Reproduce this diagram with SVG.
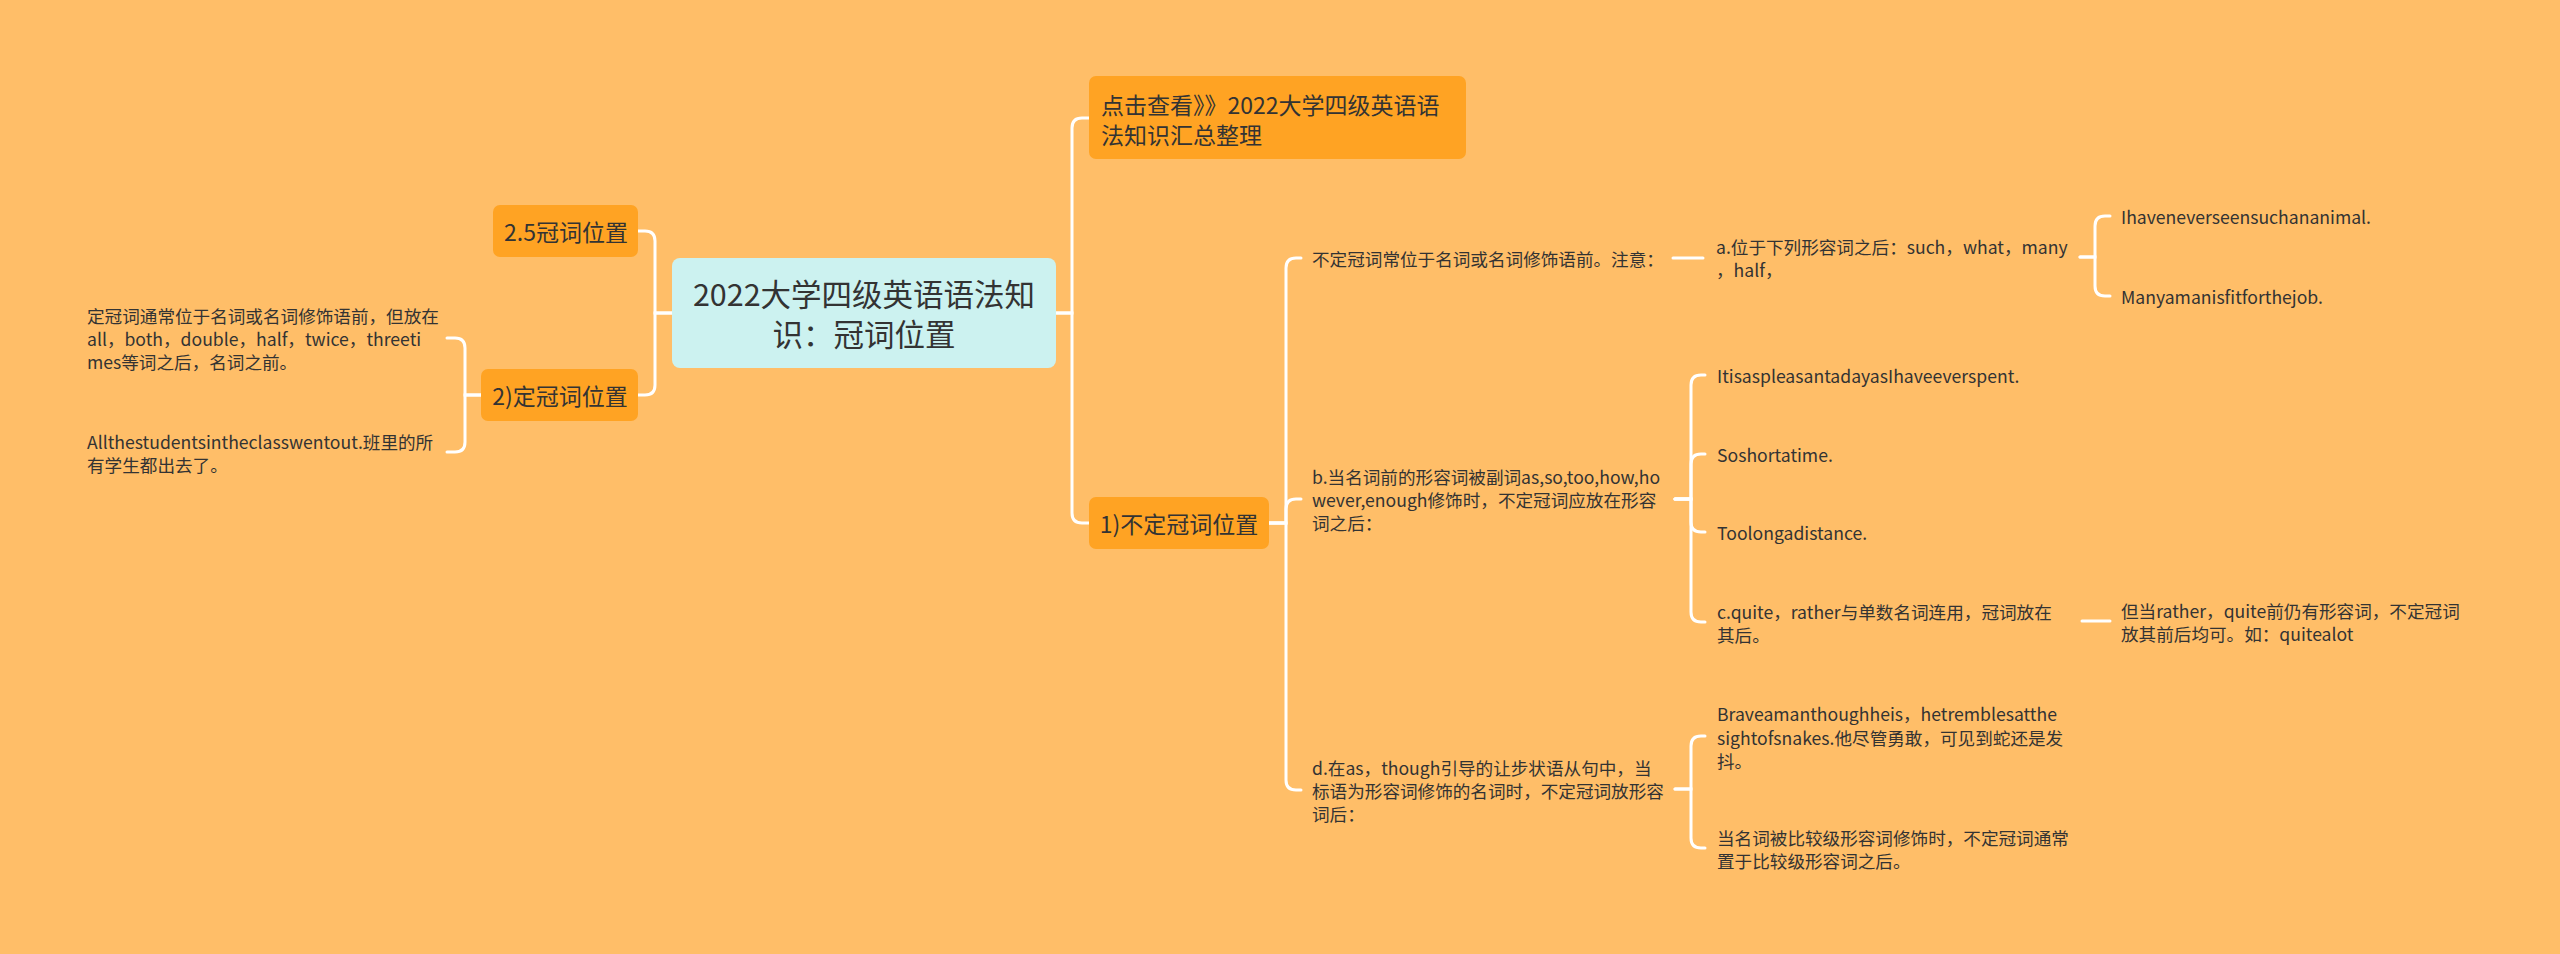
<svg xmlns="http://www.w3.org/2000/svg" width="2560" height="954" viewBox="0 0 2560 954">
<style>
text{font-family:"Noto Sans CJK SC","Microsoft YaHei",sans-serif;fill:#333333;dominant-baseline:central}
.root{font-size:30.5px;text-anchor:middle}
.main{font-size:23px}
.leaf{font-size:17.6px}
.box{fill:#FFA323}
.conn path{fill:none;stroke:#FFFFFF;stroke-width:3;stroke-linecap:round}
</style>
<rect x="0" y="0" width="2560" height="954" fill="#FFBE68"/>
<g class="conn" id="connectors">
<path d="M1056,313 H1072 V128 Q1072,118 1082,118 H1089"/>
<path d="M1056,313 H1072 V513 Q1072,523 1082,523 H1089"/>
<path d="M672,313 H655 V241 Q655,231 645,231 H638"/>
<path d="M672,313 H655 V385 Q655,395 645,395 H638"/>
<path d="M481,395 H465 V348 Q465,338 455,338 H447"/>
<path d="M481,395 H465 V442 Q465,452 455,452 H447"/>
<path d="M1269,523 H1286 V268 Q1286,258 1296,258 H1301"/>
<path d="M1269,523 H1286 V509 Q1286,499 1296,499 H1301"/>
<path d="M1269,523 H1286 V780 Q1286,790 1296,790 H1301"/>
<path d="M1673,258 H1703"/>
<path d="M2080,257 H2095 V226 Q2095,216 2105,216 H2110"/>
<path d="M2080,257 H2095 V286 Q2095,296 2105,296 H2110"/>
<path d="M1675,499 H1691 V385 Q1691,375 1701,375 H1705"/>
<path d="M1675,499 H1691 V464 Q1691,454 1701,454 H1705"/>
<path d="M1675,499 H1691 V522 Q1691,532 1701,532 H1705"/>
<path d="M1675,499 H1691 V612 Q1691,622 1701,622 H1705"/>
<path d="M2082,621 H2110"/>
<path d="M1675,789 H1691 V746 Q1691,736 1701,736 H1705"/>
<path d="M1675,789 H1691 V838 Q1691,848 1701,848 H1705"/>
</g>
<g id="root">
<rect x="672" y="258" width="384" height="110" rx="8" fill="#CCF2F0"/>
<text class="root" x="864" y="293">2022大学四级英语语法知</text>
<text class="root" x="864" y="333">识：冠词位置</text>
</g>
<g id="n-summary">
<rect class="box" x="1089" y="76" width="377" height="83" rx="7"/>
<text class="main" x="1101" y="104">点击查看》》2022大学四级英语语</text>
<text class="main" x="1101" y="134">法知识汇总整理</text>
</g>
<g id="n-indef">
<rect class="box" x="1089" y="497" width="180" height="52" rx="7"/>
<text class="main" x="1179" y="523" text-anchor="middle">1)不定冠词位置</text>
</g>
<g id="n-25">
<rect class="box" x="493" y="205" width="145" height="52" rx="7"/>
<text class="main" x="566" y="231" text-anchor="middle">2.5冠词位置</text>
</g>
<g id="n-def">
<rect class="box" x="481" y="369" width="157" height="52" rx="7"/>
<text class="main" x="560" y="395" text-anchor="middle">2)定冠词位置</text>
</g>
<g id="l-def1">
<text class="leaf" x="87" y="315">定冠词通常位于名词或名词修饰语前，但放在</text>
<text class="leaf" x="87" y="338">all，both，double，half，twice，threeti</text>
<text class="leaf" x="87" y="361">mes等词之后，名词之前。</text>
</g>
<g id="l-def2">
<text class="leaf" x="87" y="441">Allthestudentsintheclasswentout.班里的所</text>
<text class="leaf" x="87" y="464">有学生都出去了。</text>
</g>
<g id="l-indef-note">
<text class="leaf" x="1312" y="258">不定冠词常位于名词或名词修饰语前。注意：</text>
</g>
<g id="l-a">
<text class="leaf" x="1716" y="246">a.位于下列形容词之后：such，what，many</text>
<text class="leaf" x="1716" y="269">，half，</text>
</g>
<g id="l-a1"><text class="leaf" x="2121" y="216">Ihaveneverseensuchananimal.</text></g>
<g id="l-a2"><text class="leaf" x="2121" y="296">Manyamanisfitforthejob.</text></g>
<g id="l-b">
<text class="leaf" x="1312" y="476">b.当名词前的形容词被副词as,so,too,how,ho</text>
<text class="leaf" x="1312" y="499">wever,enough修饰时，不定冠词应放在形容</text>
<text class="leaf" x="1312" y="522">词之后：</text>
</g>
<g id="l-b1"><text class="leaf" x="1717" y="375">ItisaspleasantadayasIhaveeverspent.</text></g>
<g id="l-b2"><text class="leaf" x="1717" y="454">Soshortatime.</text></g>
<g id="l-b3"><text class="leaf" x="1717" y="532">Toolongadistance.</text></g>
<g id="l-c">
<text class="leaf" x="1717" y="611">c.quite，rather与单数名词连用，冠词放在</text>
<text class="leaf" x="1717" y="634">其后。</text>
</g>
<g id="l-c1">
<text class="leaf" x="2121" y="610">但当rather，quite前仍有形容词，不定冠词</text>
<text class="leaf" x="2121" y="633">放其前后均可。如：quitealot</text>
</g>
<g id="l-d">
<text class="leaf" x="1312" y="767">d.在as，though引导的让步状语从句中，当</text>
<text class="leaf" x="1312" y="790">标语为形容词修饰的名词时，不定冠词放形容</text>
<text class="leaf" x="1312" y="813">词后：</text>
</g>
<g id="l-d1">
<text class="leaf" x="1717" y="713">Braveamanthoughheis，hetremblesatthe</text>
<text class="leaf" x="1717" y="737">sightofsnakes.他尽管勇敢，可见到蛇还是发</text>
<text class="leaf" x="1717" y="760">抖。</text>
</g>
<g id="l-d2">
<text class="leaf" x="1717" y="837">当名词被比较级形容词修饰时，不定冠词通常</text>
<text class="leaf" x="1717" y="860">置于比较级形容词之后。</text>
</g>
</svg>
